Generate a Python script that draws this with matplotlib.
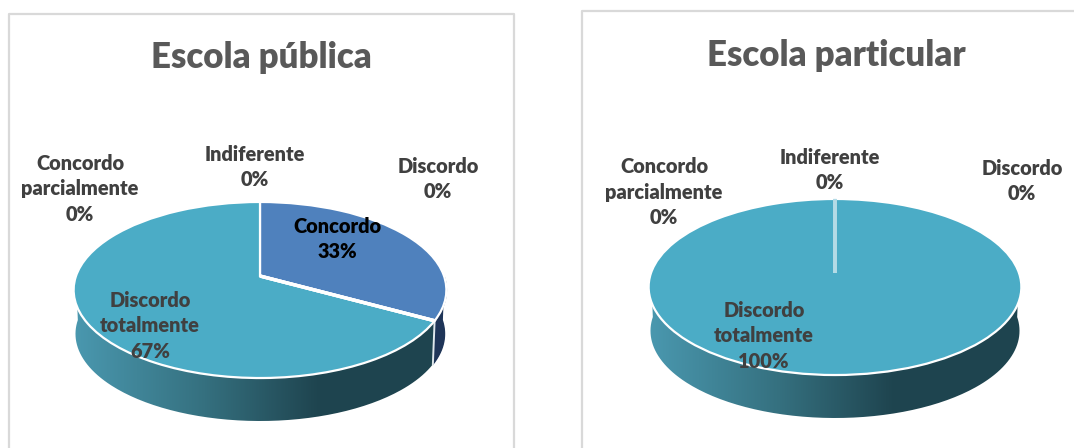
import numpy as np
import matplotlib
matplotlib.use("Agg")
import matplotlib.pyplot as plt
from matplotlib.colors import LinearSegmentedColormap
from matplotlib.patches import PathPatch
from matplotlib.path import Path
from matplotlib.transforms import Transform

plt.rcParams['font.family'] = ['Lato', 'DejaVu Sans']

categories = ['Concordo', 'Concordo\nparcialmente', 'Indiferente', 'Discordo', 'Discordo\ntotalmente']
publica = [33, 0, 0, 0, 67]
particular = [0, 0, 0, 0, 100]
colors = ['#4f81bd', '#4bacc6', '#4bacc6', '#4bacc6', '#4bacc6']

side_stops = [(0.0, '#4a98af'), (0.35, '#35707f'), (0.65, '#1f4550'), (1.0, '#1e444f')]
side_cmap = LinearSegmentedColormap.from_list('side', side_stops)


class Tilt(Transform):
    # unit circle of the pie -> tilted disc in pixels
    input_dims = output_dims = 2

    def __init__(self, cx, cy, a=184.0, b=85.8, k=0.159):
        super().__init__()
        self.cx, self.cy, self.a, self.b, self.k = cx, cy, a, b, k

    def transform_non_affine(self, values):
        values = np.asarray(values)
        w = 1 + self.k * values[:, 1]
        return np.column_stack([self.cx + self.a * values[:, 0] / w,
                                self.cy - self.b * values[:, 1] / w])

    def transform_path_non_affine(self, path):
        return Path(self.transform_non_affine(path.vertices), path.codes)


def rim(tilt, t1, t2, n=200):
    t = np.radians(np.linspace(t1, t2, n))
    return tilt.transform_non_affine(np.column_stack([np.cos(t), np.sin(t)]))


def draw_pie(ax, values, cx, cy, depth, line_color):
    tilt = Tilt(cx, cy)
    low = Tilt(cx, cy + depth, a=184.0 * 0.99, b=85.8 * 0.99)

    # side of the pie, gradient clipped to the ribbon under the rim
    top_pts = rim(tilt, 180, 360)
    low_pts = rim(low, 360, 180)
    outline = np.vstack([top_pts, low_pts])
    x0, x1 = outline[:, 0].min(), outline[:, 0].max()
    y0, y1 = outline[:, 1].min(), outline[:, 1].max()
    clip = PathPatch(Path(outline), transform=ax.transData, facecolor='none', edgecolor='none')
    ax.add_patch(clip)
    img = ax.imshow(np.linspace(0, 1, 256)[None, :], cmap=side_cmap, extent=(x0, x1, y1, y0),
                    aspect='auto', zorder=0.5)
    img.set_clip_path(clip)

    # top surface
    wedges, _ = ax.pie(values, colors=colors, startangle=90, counterclock=False,
                       wedgeprops={'edgecolor': 'white', 'linewidth': 1.6})
    for w, v in zip(wedges, values):
        w.set_transform(tilt + ax.transData)
        w.set_clip_on(False)
        w.set_zorder(2)
        if v == 0:
            w.set_edgecolor(line_color)
            w.set_linewidth(2.4)
            w.set_zorder(3)

    # small dark side of the first slice, where it shows
    if 0 < values[0] < 100:
        end = 90 - values[0] * 3.6
        pts = np.vstack([rim(tilt, end, 0), rim(low, 0, end)])
        ax.fill(pts[:, 0], pts[:, 1], color='#1f3558', zorder=1)
        a = rim(tilt, end, end, 1)[0]
        b = rim(low, end, end, 1)[0]
        ax.plot([a[0], b[0]], [a[1], b[1]], color='#dfe8ec', lw=1.4, zorder=1.5)


fig = plt.figure(figsize=(10.74, 4.48), dpi=100)
ax = fig.add_axes([0, 0, 1, 1])

draw_pie(ax, publica, 260, 276, 44, 'white')
draw_pie(ax, particular, 835, 273, 44, '#b4dbe6')

ax.set_aspect('auto')
ax.set_xlim(0, 1074)
ax.set_ylim(448, 0)
ax.axis('off')

# chart frames, open where the picture cuts them
for xs, ys in [([9, 9, 514, 514], [448, 14, 14, 448]), ([582, 582, 1074], [448, 11, 11])]:
    ax.plot(xs, ys, color='#d9d9d9', lw=1.6, zorder=1)

ax.text(261, 58, 'Escola pública', ha='center', va='center', fontsize=25, fontweight=800, color='#595959')
ax.text(836, 56, 'Escola particular', ha='center', va='center', fontsize=25, fontweight=800, color='#595959')


def label(x, y, name, value, color='#404040'):
    ax.text(x, y, f'{name}\n{value}%', ha='center', va='center', fontsize=14.4, fontweight=800,
            color=color, linespacing=1.38, zorder=5)


label(337, 239, categories[0], publica[0], color='black')
label(80, 189, categories[1], publica[1])
label(255, 167, categories[2], publica[2])
label(438, 179, categories[3], publica[3])
label(150, 326, categories[4], publica[4])

label(664, 192, categories[1], particular[1])
label(830, 170, categories[2], particular[2])
label(1022, 181, categories[3], particular[3])
label(764, 336, categories[4], particular[4])

fig.savefig('out.png', dpi=100)
